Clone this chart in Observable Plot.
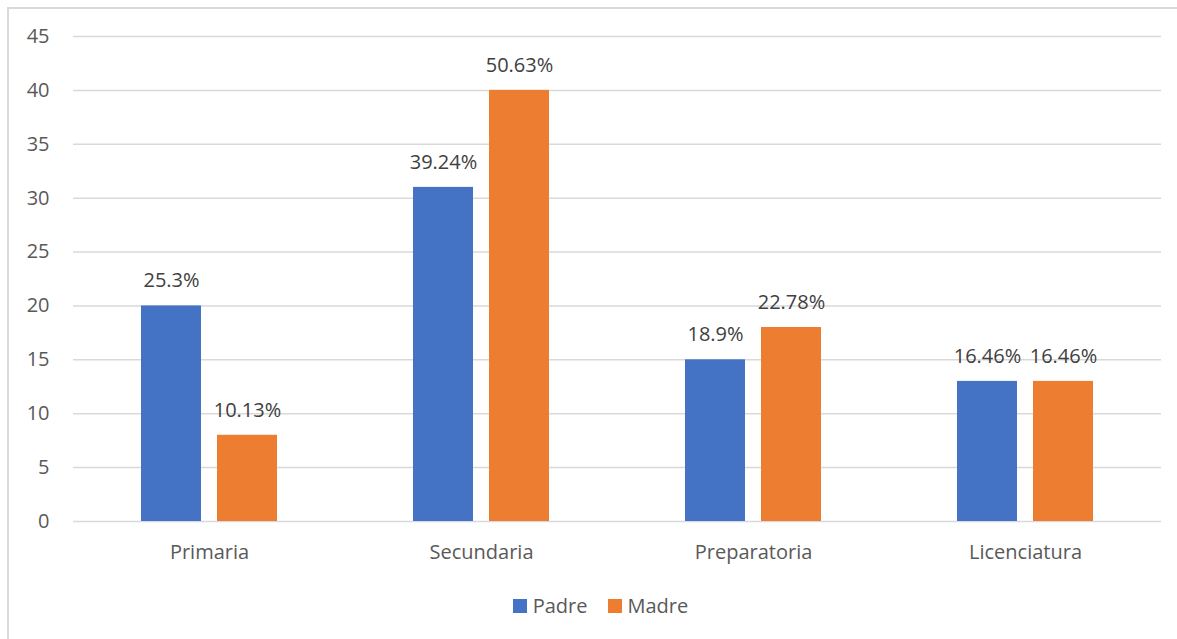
<!DOCTYPE html>
<html>
<head>
<meta charset="utf-8">
<script src="https://cdn.jsdelivr.net/npm/d3@7"></script>
<script src="https://cdn.jsdelivr.net/npm/@observablehq/plot@0.6"></script>
<style>
  html, body { margin: 0; padding: 0; background: #fff; }
  body { width: 1177px; height: 639px; position: relative; overflow: hidden; font-family: "Open Sans", sans-serif; }
  #frame { position: absolute; left: 7px; top: 7px; width: 1200px; height: 700px; border-left: 2px solid #d9d9d9; border-top: 2px solid #d9d9d9; box-sizing: border-box; pointer-events: none; }
  #chart { position: absolute; left: 0; top: 0; }
  #legend { position: absolute; top: 592px; left: 0; width: 1177px; display: flex; justify-content: center; gap: 0; font-size: 20px; color: #595959; padding-left: 24px; box-sizing: border-box; }
  .item { display: flex; align-items: center; margin: 0 10px; }
  .sw { width: 14px; height: 14px; margin-right: 6px; }
</style>
</head>
<body>
<div id="chart"></div>
<div id="frame"></div>
<div id="legend"></div>
<script>
const categories = ["Primaria", "Secundaria", "Preparatoria", "Licenciatura"];
const seriesNames = ["Padre", "Madre"];
const padreValues = [20, 31, 15, 13];
const madreValues = [8, 40, 18, 13];
const padreLabels = ["25.3%", "39.24%", "18.9%", "16.46%"];
const madreLabels = ["10.13%", "50.63%", "22.78%", "16.46%"];
const seriesColors = ["#4472C4", "#ED7D31"];
const yTicks = [0, 5, 10, 15, 20, 25, 30, 35, 40, 45];

const data = [];
categories.forEach((c, i) => {
  data.push({cat: c, series: "Padre", value: padreValues[i], label: padreLabels[i]});
  data.push({cat: c, series: "Madre", value: madreValues[i], label: madreLabels[i]});
});

const chart = Plot.plot({
  width: 1177,
  height: 570,
  marginLeft: 71,
  marginRight: 15,
  marginTop: 36,
  marginBottom: 49,
  style: {fontFamily: "Open Sans, sans-serif", fontSize: "20px", color: "#595959", background: "transparent"},
  fx: {domain: categories, padding: 0, label: null, tickSize: 0, tickPadding: 23, axis: "bottom"},
  x: {domain: seriesNames, paddingInner: 0.208, paddingOuter: 0.875, axis: null},
  y: {domain: [0, 45], ticks: yTicks, label: null, tickSize: 0, tickPadding: 24},
  color: {domain: seriesNames, range: seriesColors},
  marks: [
    Plot.ruleY(yTicks, {stroke: "#d9d9d9", strokeWidth: 1.5}),
    Plot.barY(data, {fx: "cat", x: "series", y: "value", fill: "series"}),
    Plot.text(data, {fx: "cat", x: "series", y: "value", text: "label", dy: -25, fill: "#404040", fontSize: 20})
  ]
});
document.getElementById("chart").appendChild(chart);

const legend = document.getElementById("legend");
seriesNames.forEach((s, i) => {
  const item = document.createElement("div");
  item.className = "item";
  const sw = document.createElement("div");
  sw.className = "sw";
  sw.style.background = seriesColors[i];
  const t = document.createElement("span");
  t.textContent = s;
  item.appendChild(sw);
  item.appendChild(t);
  legend.appendChild(item);
});
</script>
</body>
</html>
